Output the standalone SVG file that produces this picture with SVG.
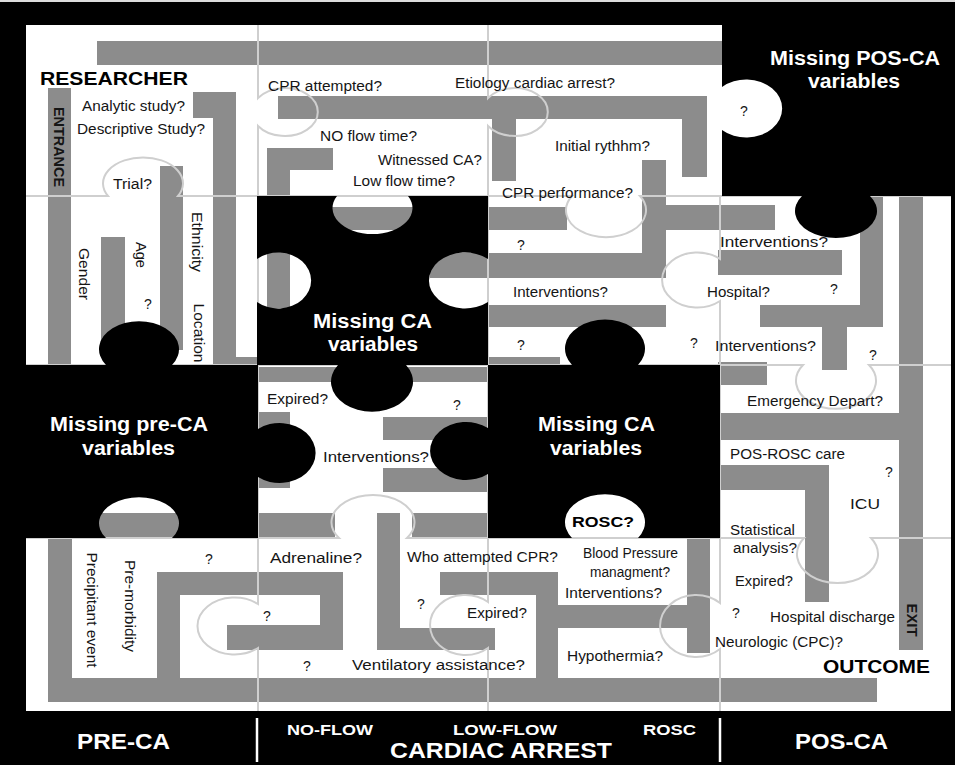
<svg xmlns="http://www.w3.org/2000/svg" width="955" height="765" viewBox="0 0 955 765">
<defs>
<style>
.bar{fill:#8c8c8c}
.grid{fill:none;stroke:#cfcfcf;stroke-width:2}
.pc{fill:#000}
.t{font-family:"Liberation Sans",Arial,sans-serif;font-size:14px;fill:#151515}
.tb{font-family:"Liberation Sans",Arial,sans-serif;font-weight:bold;fill:#000}
.tw{font-family:"Liberation Sans",Arial,sans-serif;font-weight:bold;font-size:20px;fill:#fff}
.band{font-family:"Liberation Sans",Arial,sans-serif;font-weight:bold;fill:#fff}
.rot{font-family:"Liberation Sans",Arial,sans-serif;font-size:14px;fill:#151515;text-anchor:middle;dominant-baseline:central}
</style>
</defs>
<rect x="0" y="0" width="955" height="765" fill="#000"/>
<rect x="0" y="0" width="955" height="2" fill="#dcdcdc"/>
<rect x="26" y="25" width="925" height="686" fill="#fff"/>

<g id="maze">
<rect class="bar" x="97" y="41" width="625" height="24"/>
<rect class="bar" x="48" y="88" width="23" height="277"/>
<rect class="bar" x="193" y="92" width="43" height="26"/>
<rect class="bar" x="213" y="92" width="23" height="273"/>
<rect class="bar" x="236" y="357" width="21" height="8"/>
<rect class="bar" x="160" y="166" width="23" height="184"/>
<rect class="bar" x="101" y="237" width="24" height="113"/>
<rect class="bar" x="278" y="96" width="429" height="23"/>
<rect class="bar" x="682" y="96" width="25" height="81"/>
<rect class="bar" x="492" y="96" width="24" height="85"/>
<rect class="bar" x="267" y="148" width="66" height="22"/>
<rect class="bar" x="267" y="148" width="23" height="160"/>
<rect class="bar" x="642" y="160" width="24" height="118"/>
<rect class="bar" x="666" y="205" width="109" height="25"/>
<rect class="bar" x="300" y="207" width="180" height="23"/>
<rect class="bar" x="488" y="207" width="79" height="23"/>
<rect class="bar" x="430" y="253" width="236" height="25"/>
<rect class="bar" x="488" y="305" width="178" height="22"/>
<rect class="bar" x="488" y="357" width="72" height="8"/>
<rect class="bar" x="718" y="250" width="124" height="25"/>
<rect class="bar" x="860" y="196" width="23" height="131"/>
<rect class="bar" x="760" y="305" width="123" height="22"/>
<rect class="bar" x="822" y="305" width="25" height="65"/>
<rect class="bar" x="899" y="196" width="24" height="454"/>
<rect class="bar" x="718" y="362" width="49" height="23"/>
<rect class="bar" x="720" y="413" width="180" height="27"/>
<rect class="bar" x="720" y="465" width="109" height="25"/>
<rect class="bar" x="805" y="465" width="24" height="137"/>
<rect class="bar" x="258" y="367" width="230" height="15"/>
<rect class="bar" x="258" y="412" width="32" height="76"/>
<rect class="bar" x="383" y="417" width="105" height="23"/>
<rect class="bar" x="383" y="468" width="105" height="24"/>
<rect class="bar" x="258" y="513" width="77" height="25"/>
<rect class="bar" x="412" y="513" width="76" height="25"/>
<rect class="bar" x="90" y="513" width="100" height="25"/>
<rect class="bar" x="48" y="538" width="24" height="164"/>
<rect class="bar" x="48" y="678" width="829" height="24"/>
<rect class="bar" x="157" y="572" width="23" height="106"/>
<rect class="bar" x="157" y="572" width="186" height="23"/>
<rect class="bar" x="320" y="572" width="23" height="78"/>
<rect class="bar" x="227" y="625" width="116" height="25"/>
<rect class="bar" x="377" y="513" width="23" height="137"/>
<rect class="bar" x="377" y="628" width="118" height="22"/>
<rect class="bar" x="440" y="572" width="118" height="23"/>
<rect class="bar" x="536" y="572" width="22" height="106"/>
<rect class="bar" x="558" y="605" width="129" height="23"/>
<rect class="bar" x="687" y="538" width="23" height="115"/>
</g>

<g id="connectors">
<path class="grid" d="M26 196 H108 A40 26 0 1 1 178 196 H572 A40 27 0 1 0 640 196 H951"/>
<path class="grid" d="M26 365 H803 A40 28 0 1 0 869 365 H951"/>
<path class="grid" d="M26 538 H339 A41.5 27.3 0 1 1 407 538 H804 A40.5 28.8 0 1 0 871 538 H951"/>
<path class="grid" d="M258 25 V98 A33 24 0 1 1 258 126 V604 A37 28.5 0 1 0 258 648 V711"/>
<path class="grid" d="M488 25 V98 A33 24 0 1 1 488 126 V602 A35.3 30 0 1 0 488 648 V711"/>
<path class="grid" d="M720 196 V259 A35.2 27.5 0 1 0 720 301 V603 A35.9 31 0 1 0 720 649 V711"/>
</g>

<g id="labels-maze">
<text class="tb" x="40" y="85" font-size="19" textLength="148" lengthAdjust="spacingAndGlyphs">RESEARCHER</text>
<text class="t" x="82" y="111" textLength="103" lengthAdjust="spacingAndGlyphs">Analytic study?</text>
<text class="t" x="77" y="134" textLength="128" lengthAdjust="spacingAndGlyphs">Descriptive Study?</text>
<text class="t" x="113" y="189" textLength="39" lengthAdjust="spacingAndGlyphs">Trial?</text>
<text class="t" x="268" y="91" textLength="114" lengthAdjust="spacingAndGlyphs">CPR attempted?</text>
<text class="t" x="455" y="88" textLength="160" lengthAdjust="spacingAndGlyphs">Etiology cardiac arrest?</text>
<text class="t" x="320" y="141" textLength="97" lengthAdjust="spacingAndGlyphs">NO flow time?</text>
<text class="t" x="378" y="165" textLength="104" lengthAdjust="spacingAndGlyphs">Witnessed CA?</text>
<text class="t" x="353" y="186" textLength="102" lengthAdjust="spacingAndGlyphs">Low flow time?</text>
<text class="t" x="555" y="151" textLength="95" lengthAdjust="spacingAndGlyphs">Initial rythhm?</text>
<text class="t" x="502" y="198" textLength="131" lengthAdjust="spacingAndGlyphs">CPR performance?</text>
<text class="t" x="517" y="250">?</text>
<text class="t" x="513" y="297" textLength="95" lengthAdjust="spacingAndGlyphs">Interventions?</text>
<text class="t" x="517" y="350">?</text>
<text class="t" x="690" y="348">?</text>
<text class="t" x="720" y="247" textLength="108" lengthAdjust="spacingAndGlyphs">Interventions?</text>
<text class="t" x="707" y="297" textLength="63" lengthAdjust="spacingAndGlyphs">Hospital?</text>
<text class="t" x="830" y="294">?</text>
<text class="t" x="715" y="351" textLength="101" lengthAdjust="spacingAndGlyphs">Interventions?</text>
<text class="t" x="869" y="360">?</text>
<text class="t" x="267" y="404" textLength="61" lengthAdjust="spacingAndGlyphs">Expired?</text>
<text class="t" x="453" y="410">?</text>
<text class="t" x="323" y="462" textLength="106" lengthAdjust="spacingAndGlyphs">Interventions?</text>
<text class="t" x="747" y="406" textLength="136" lengthAdjust="spacingAndGlyphs">Emergency Depart?</text>
<text class="t" x="730" y="459" textLength="115" lengthAdjust="spacingAndGlyphs">POS-ROSC care</text>
<text class="t" x="885" y="477">?</text>
<text class="t" x="850" y="509" font-size="18" textLength="30" lengthAdjust="spacingAndGlyphs">ICU</text>
<text class="t" x="730" y="535" textLength="65" lengthAdjust="spacingAndGlyphs">Statistical</text>
<text class="t" x="733" y="553" textLength="64" lengthAdjust="spacingAndGlyphs">analysis?</text>
<text class="t" x="583" y="558" font-size="13" textLength="95" lengthAdjust="spacingAndGlyphs">Blood Pressure</text>
<text class="t" x="590" y="577" font-size="13" textLength="80" lengthAdjust="spacingAndGlyphs">managment?</text>
<text class="t" x="407" y="562" textLength="151" lengthAdjust="spacingAndGlyphs">Who attempted CPR?</text>
<text class="t" x="565" y="598" textLength="97" lengthAdjust="spacingAndGlyphs">Interventions?</text>
<text class="t" x="467" y="618" textLength="60" lengthAdjust="spacingAndGlyphs">Expired?</text>
<text class="t" x="417" y="609">?</text>
<text class="t" x="567" y="661" textLength="96" lengthAdjust="spacingAndGlyphs">Hypothermia?</text>
<text class="t" x="352" y="670" textLength="173" lengthAdjust="spacingAndGlyphs">Ventilatory assistance?</text>
<text class="t" x="303" y="671">?</text>
<text class="t" x="270" y="563" textLength="92" lengthAdjust="spacingAndGlyphs">Adrenaline?</text>
<text class="t" x="263" y="621">?</text>
<text class="t" x="205" y="564">?</text>
<text class="t" x="144" y="309">?</text>
<text class="t" x="735" y="586" textLength="58" lengthAdjust="spacingAndGlyphs">Expired?</text>
<text class="t" x="732" y="618">?</text>
<text class="t" x="770" y="622" textLength="125" lengthAdjust="spacingAndGlyphs">Hospital discharge</text>
<text class="t" x="715" y="647" textLength="128" lengthAdjust="spacingAndGlyphs">Neurologic (CPC)?</text>
<text class="tb" x="823" y="673" font-size="18" textLength="107" lengthAdjust="spacingAndGlyphs">OUTCOME</text>
<text class="rot" transform="translate(59 147) rotate(90)" font-weight="bold" font-size="12" textLength="80" lengthAdjust="spacingAndGlyphs">ENTRANCE</text>
<text class="rot" transform="translate(84 274) rotate(90)" textLength="52" lengthAdjust="spacingAndGlyphs">Gender</text>
<text class="rot" transform="translate(141 255) rotate(90)" textLength="26" lengthAdjust="spacingAndGlyphs">Age</text>
<text class="rot" transform="translate(197 242) rotate(90)" textLength="60" lengthAdjust="spacingAndGlyphs">Ethnicity</text>
<text class="rot" transform="translate(199 333) rotate(90)" textLength="59" lengthAdjust="spacingAndGlyphs">Location</text>
<text class="rot" transform="translate(92 610) rotate(90)" textLength="115" lengthAdjust="spacingAndGlyphs">Precipitant event</text>
<text class="rot" transform="translate(130 606) rotate(90)" textLength="92" lengthAdjust="spacingAndGlyphs">Pre-morbidity</text>
<text class="rot" transform="translate(912 620) rotate(90)" font-weight="bold" font-size="11" textLength="33" lengthAdjust="spacingAndGlyphs">EXIT</text>
</g>

<g id="piece-posca">
<path class="pc" d="M722 20 H955 V196 H870 A41 27 0 1 1 802 196 H722 V130 A36 29 0 1 0 722 87 Z"/>
<text class="t" x="740" y="116">?</text>
<text class="tw" x="770" y="65" textLength="170" lengthAdjust="spacingAndGlyphs">Missing POS-CA</text>
<text class="tw" x="808" y="88" textLength="92" lengthAdjust="spacingAndGlyphs">variables</text>
</g>

<g id="piece-ca-upper">
<path class="pc" d="M257 196 H337 A40 26 0 1 0 408 196 H488 V259 A36 28 0 1 0 488 302 V365 H406 A41 30 0 1 1 338 365 H257 V302 A33 28 0 1 0 257 259 Z"/>
<text class="tw" x="313" y="328" textLength="119" lengthAdjust="spacingAndGlyphs">Missing CA</text>
<text class="tw" x="328" y="351" textLength="90" lengthAdjust="spacingAndGlyphs">variables</text>
</g>

<g id="piece-preca">
<path class="pc" d="M0 365 H106 A40 28 0 1 1 172 365 H258 V429 A36 30 0 1 1 258 477 V538 H172 A40 26 0 1 0 106 538 H0 Z"/>
<text class="tw" x="50" y="431" textLength="158" lengthAdjust="spacingAndGlyphs">Missing pre-CA</text>
<text class="tw" x="82" y="455" textLength="93" lengthAdjust="spacingAndGlyphs">variables</text>
</g>

<g id="piece-ca-lower">
<path class="pc" d="M488 365 H572 A40 29 0 1 1 638 365 H720 V538 H638 A40 28 0 1 0 572 538 H488 V474 A36 29 0 1 1 488 428 Z"/>
<text class="tw" x="538" y="431" textLength="117" lengthAdjust="spacingAndGlyphs">Missing CA</text>
<text class="tw" x="550" y="455" textLength="92" lengthAdjust="spacingAndGlyphs">variables</text>
<text class="tb" x="572" y="527" font-size="15" textLength="62" lengthAdjust="spacingAndGlyphs">ROSC?</text>
</g>

<g id="timeline">
<line x1="257" y1="718" x2="257" y2="762" stroke="#fff" stroke-width="2.5"/>
<line x1="720" y1="718" x2="720" y2="762" stroke="#fff" stroke-width="2.5"/>
<text class="band" x="77" y="749" font-size="22" textLength="93" lengthAdjust="spacingAndGlyphs">PRE-CA</text>
<text class="band" x="287" y="735" font-size="15" textLength="86" lengthAdjust="spacingAndGlyphs">NO-FLOW</text>
<text class="band" x="453" y="735" font-size="15" textLength="104" lengthAdjust="spacingAndGlyphs">LOW-FLOW</text>
<text class="band" x="390" y="758" font-size="22" textLength="222" lengthAdjust="spacingAndGlyphs">CARDIAC ARREST</text>
<text class="band" x="643" y="735" font-size="15" textLength="53" lengthAdjust="spacingAndGlyphs">ROSC</text>
<text class="band" x="795" y="749" font-size="22" textLength="93" lengthAdjust="spacingAndGlyphs">POS-CA</text>
</g>
</svg>
